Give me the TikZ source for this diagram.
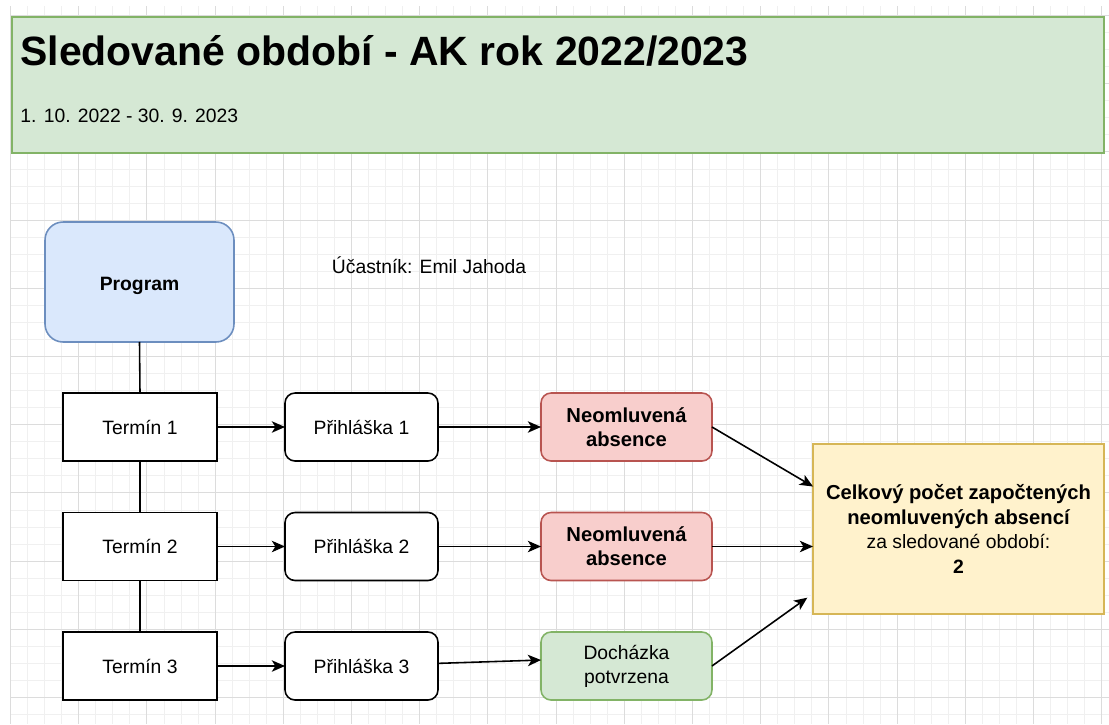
\documentclass[tikz,border=0pt]{standalone}
\usepackage{fontspec}
\setmainfont{Liberation Sans}
\usetikzlibrary{arrows.meta,calc}

\definecolor{gridminor}{HTML}{F0F0F0}
\definecolor{gridmajor}{HTML}{DCDCDC}
\definecolor{greenfill}{HTML}{D5E8D4}
\definecolor{greendraw}{HTML}{82B366}
\definecolor{bluefill}{HTML}{DAE8FC}
\definecolor{bluedraw}{HTML}{6C8EBF}
\definecolor{redfill}{HTML}{F8CECC}
\definecolor{reddraw}{HTML}{B85450}
\definecolor{yellowfill}{HTML}{FFF2CC}
\definecolor{yellowdraw}{HTML}{D6B656}

\begin{document}
\begin{tikzpicture}[%
    x=0.02cm, y=-0.02cm,
    line width=0.9pt,
    every node/.style={font=\fontsize{11}{13.6}\selectfont, inner sep=0pt, outer sep=0pt},
    minorgrid/.style={draw=gridminor, line width=0.5pt},
    majorgrid/.style={draw=gridmajor, line width=0.6pt},
    termbox/.style={draw=black, fill=white, minimum width=3.08cm, minimum height=1.36cm},
    prihlbox/.style={termbox, rounded corners=0.2cm, minimum width=3.06cm},
    absbox/.style={draw=reddraw, fill=redfill, rounded corners=0.2cm, align=center,
        minimum width=3.42cm, minimum height=1.36cm, font=\fontsize{11.5}{13.8}\selectfont\bfseries},
    okbox/.style={absbox, draw=greendraw, fill=greenfill, font=\fontsize{11}{13.6}\selectfont},
    arrow/.style={-{Stealth[length=7.5pt, width=6.5pt, inset=2pt]}}
]
    % Page size of the reference.
    \useasboundingbox (0,0) rectangle (1109,724);

    % Background grid.
    \foreach \i in {0,...,64}
        \draw[minorgrid] ({10.5+17.05*\i},6) -- ({10.5+17.05*\i},724);
    \foreach \j in {0,...,41}
        \draw[minorgrid] (10,{15.5+17.05*\j}) -- (1109,{15.5+17.05*\j});
    \foreach \i in {0,...,16}
        \draw[majorgrid] ({10.5+68.2*\i},6) -- ({10.5+68.2*\i},724);
    \foreach \j in {0,...,10}
        \draw[majorgrid] (10,{15.5+68.2*\j}) -- (1109,{15.5+68.2*\j});

    % Header with the period.
    \node[draw=greendraw, fill=greenfill, minimum width=21.84cm, minimum height=2.72cm]
        (period) at (558,85) {};
    \node[anchor=base west, font=\fontsize{23.3}{28}\selectfont\bfseries]
        (title) at (20.5,65) {Sledované období - AK rok 2022/2023};
    \node[anchor=base west] (dates) at (20.5,122.5) {1. 10. 2022 - 30. 9. 2023};

    % Program and participant.
    \node[draw=bluedraw, fill=bluefill, rounded corners=0.36cm, minimum width=3.78cm,
        minimum height=2.4cm, text height=12.5pt, text depth=2.3pt,
        font=\fontsize{11}{13.6}\selectfont\bfseries]
        (program) at (139.5,282) {Program};
    \node[anchor=base] (ucastnik) at (429,273) {Účastník: Emil Jahoda};

    % Terms.
    \node[termbox] (termin1) at (140,427)   {Termín 1};
    \node[termbox] (termin2) at (140,546.5) {Termín 2};
    \node[termbox] (termin3) at (140,666)   {Termín 3};

    % Registrations.
    \node[prihlbox] (prihlaska1) at (361.5,427)   {Přihláška 1};
    \node[prihlbox] (prihlaska2) at (361.5,546.5) {Přihláška 2};
    \node[prihlbox] (prihlaska3) at (361.5,666)   {Přihláška 3};

    % Results.
    \node[absbox] (absence1) at (626.5,427)   {Neomluvená\\absence};
    \node[absbox] (absence2) at (626.5,546.5) {Neomluvená\\absence};
    \node[okbox]  (dochazka) at (626.5,666)   {Docházka\\potvrzena};

    % Total count.
    \node[draw=yellowdraw, fill=yellowfill, minimum width=5.82cm, minimum height=3.4cm,
        align=center, font=\fontsize{11}{13.9}\selectfont] (celkem) at (958.5,529)
        {{\fontsize{11.5}{13.9}\selectfont\bfseries Celkový počet započtených}\\
         {\fontsize{11.5}{13.9}\selectfont\bfseries neomluvených absencí}\\
         za sledované období:\\\textbf{2}};

    % Program to terms.
    \draw (program.south) -- (termin1.north);
    \draw (termin1.south) -- (termin2.north);
    \draw (termin2.south) -- (termin3.north);

    % Terms to registrations to results.
    \draw[arrow] (termin1.east) -- (prihlaska1.west);
    \draw[arrow] (termin2.east) -- (prihlaska2.west);
    \draw[arrow] (termin3.east) -- (prihlaska3.west);
    \draw[arrow] (prihlaska1.east) -- (absence1.west);
    \draw[arrow] (prihlaska2.east) -- (absence2.west);
    \draw[arrow] ([yshift=1.5pt]prihlaska3.east) -- ([yshift=3.4pt]dochazka.west);

    % Results to the total.
    \draw[arrow] (absence1.east) -- ($(celkem.north west)!0.25!(celkem.south west)$);
    \draw[arrow] (absence2.east) -- (celkem.west |- absence2);
    \draw[arrow, shorten >=4pt] (dochazka.east) -- ($(celkem.north west)!0.88!(celkem.south west)$);
\end{tikzpicture}
\end{document}
